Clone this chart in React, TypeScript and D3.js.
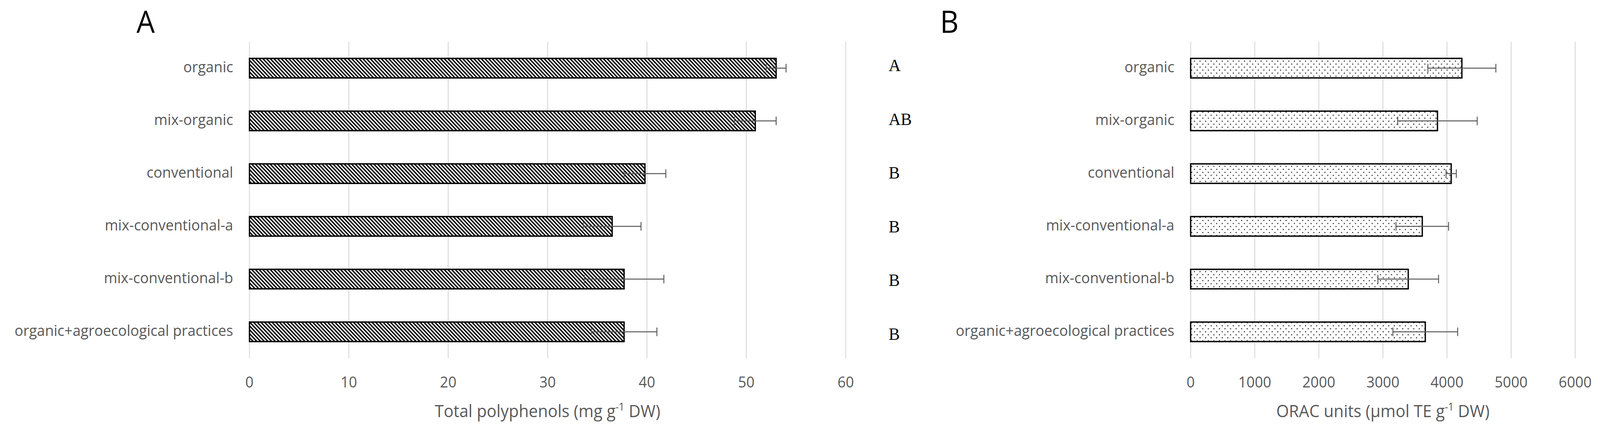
import React, { useEffect } from "react";
import * as d3 from "d3";

const categories = [
  "organic",
  "mix-organic",
  "conventional",
  "mix-conventional-a",
  "mix-conventional-b",
  "organic+agroecological practices",
];
const polyphenols = [53.0, 50.9, 39.8, 36.5, 37.7, 37.7];
const polyphenolsErr = [1.0, 2.1, 2.1, 2.9, 4.0, 3.3];
const orac = [4232, 3851, 4065, 3614, 3395, 3661];
const oracErr = [530, 620, 80, 410, 473, 505];
const significance = ["A", "AB", "B", "B", "B", "B"];
const polyTicks = [0, 10, 20, 30, 40, 50, 60];
const oracTicks = [0, 1000, 2000, 3000, 4000, 5000, 6000];

const W = 4323;
const H = 1106;
const TOP = 107;
const BOTTOM = 917;
const SANS = "'Open Sans', Lato, 'Liberation Sans', sans-serif";
const GRAY = "#595959";

const yScale = d3
  .scaleBand<string>()
  .domain(categories)
  .range([TOP, BOTTOM])
  .paddingInner(0.63)
  .paddingOuter(0.315);

const letterY = d3.scalePoint<string>().domain(categories).range([182, 870]);

type PanelProps = {
  x: d3.ScaleLinear<number, number>;
  values: number[];
  errs: number[];
  ticks: number[];
  fill: string;
  title: string;
  titleX: number;
  axisLabel: string;
};

function Panel({ x, values, errs, ticks, fill, title, titleX, axisLabel }: PanelProps) {
  const x0 = x.range()[0];
  const x1 = x.range()[1];
  const bw = yScale.bandwidth();
  return (
    <g>
      <text x={titleX} y={84} fontFamily={SANS} fontSize={78} fill="#000">
        {title}
      </text>
      {ticks.map((t) => (
        <line key={"g" + t} x1={x(t)} x2={x(t)} y1={TOP} y2={BOTTOM} stroke="#d9d9d9" strokeWidth={2.5} />
      ))}
      {ticks.map((t) => (
        <text key={"t" + t} x={x(t)} y={992} textAnchor="middle" fontFamily={SANS} fontSize={39} fill={GRAY}>
          {t}
        </text>
      ))}
      {categories.map((c, i) => {
        const yc = (yScale(c) as number) + bw / 2;
        return (
          <g key={c}>
            <text x={x0 - 44} y={yc + 11} textAnchor="end" fontFamily={SANS} fontSize={39} fill={GRAY}>
              {c}
            </text>
            <rect x={x0} y={yScale(c)} width={x(values[i]) - x0} height={bw} fill="#fff" />
            <rect
              x={x0}
              y={yScale(c)}
              width={x(values[i]) - x0}
              height={bw}
              fill={fill}
              stroke="#000"
              strokeWidth={3.5}
            />
            <g stroke={GRAY} strokeWidth={2.5}>
              <line x1={x(values[i] - errs[i])} x2={x(values[i] + errs[i])} y1={yc} y2={yc} />
              <line x1={x(values[i] - errs[i])} x2={x(values[i] - errs[i])} y1={yc - 11} y2={yc + 11} />
              <line x1={x(values[i] + errs[i])} x2={x(values[i] + errs[i])} y1={yc - 11} y2={yc + 11} />
            </g>
          </g>
        );
      })}
      <text x={(x0 + x1) / 2} y={1068} textAnchor="middle" fontFamily={SANS} fontSize={44} fill={GRAY}>
        {axisLabel}
        <tspan fontSize={27} dy={-17}>
          -1
        </tspan>
        <tspan dy={17}> DW)</tspan>
      </text>
    </g>
  );
}

export default function App() {
  useEffect(() => {
    document.body.style.margin = "0";
    document.body.style.overflow = "hidden";
  }, []);

  const xA = d3.scaleLinear().domain([0, 60]).range([674, 2285]);
  const xB = d3.scaleLinear().domain([0, 6000]).range([3217, 4256]);

  return (
    <svg
      viewBox={`0 0 ${W} ${H}`}
      preserveAspectRatio="none"
      style={{
        position: "fixed",
        left: 0,
        top: 0,
        width: "100vw",
        height: "100vh",
        display: "block",
        background: "#fff",
      }}
    >
      <defs>
        <pattern id="hatch" width={10} height={10} patternUnits="userSpaceOnUse">
          <rect width={10} height={10} fill="#fff" />
          <path d="M-5,5 L5,15 M0,0 L10,10 M5,-5 L15,5" stroke="#000" strokeWidth={3.6} />
        </pattern>
        <pattern id="dots" width={15} height={15.4} patternUnits="userSpaceOnUse">
          <rect width={15} height={15.4} fill="#fff" />
          <rect x={1} y={1} width={2.6} height={2.8} fill="#1a1a1a" />
          <rect x={8.5} y={8.7} width={2.6} height={2.8} fill="#1a1a1a" />
        </pattern>
      </defs>
      <rect width={W} height={H} fill="#fff" />
      <Panel
        x={xA}
        values={polyphenols}
        errs={polyphenolsErr}
        ticks={polyTicks}
        fill="url(#hatch)"
        title="A"
        titleX={369}
        axisLabel="Total polyphenols (mg g"
      />
      {categories.map((c, i) => (
        <text
          key={"sig" + c}
          x={2401}
          y={letterY(c)}
          fontFamily="'Liberation Serif', 'Times New Roman', serif"
          fontSize={45}
          fill="#000"
        >
          {significance[i]}
        </text>
      ))}
      <Panel
        x={xB}
        values={orac}
        errs={oracErr}
        ticks={oracTicks}
        fill="url(#dots)"
        title="B"
        titleX={2540}
        axisLabel="ORAC units (µmol TE g"
      />
    </svg>
  );
}
